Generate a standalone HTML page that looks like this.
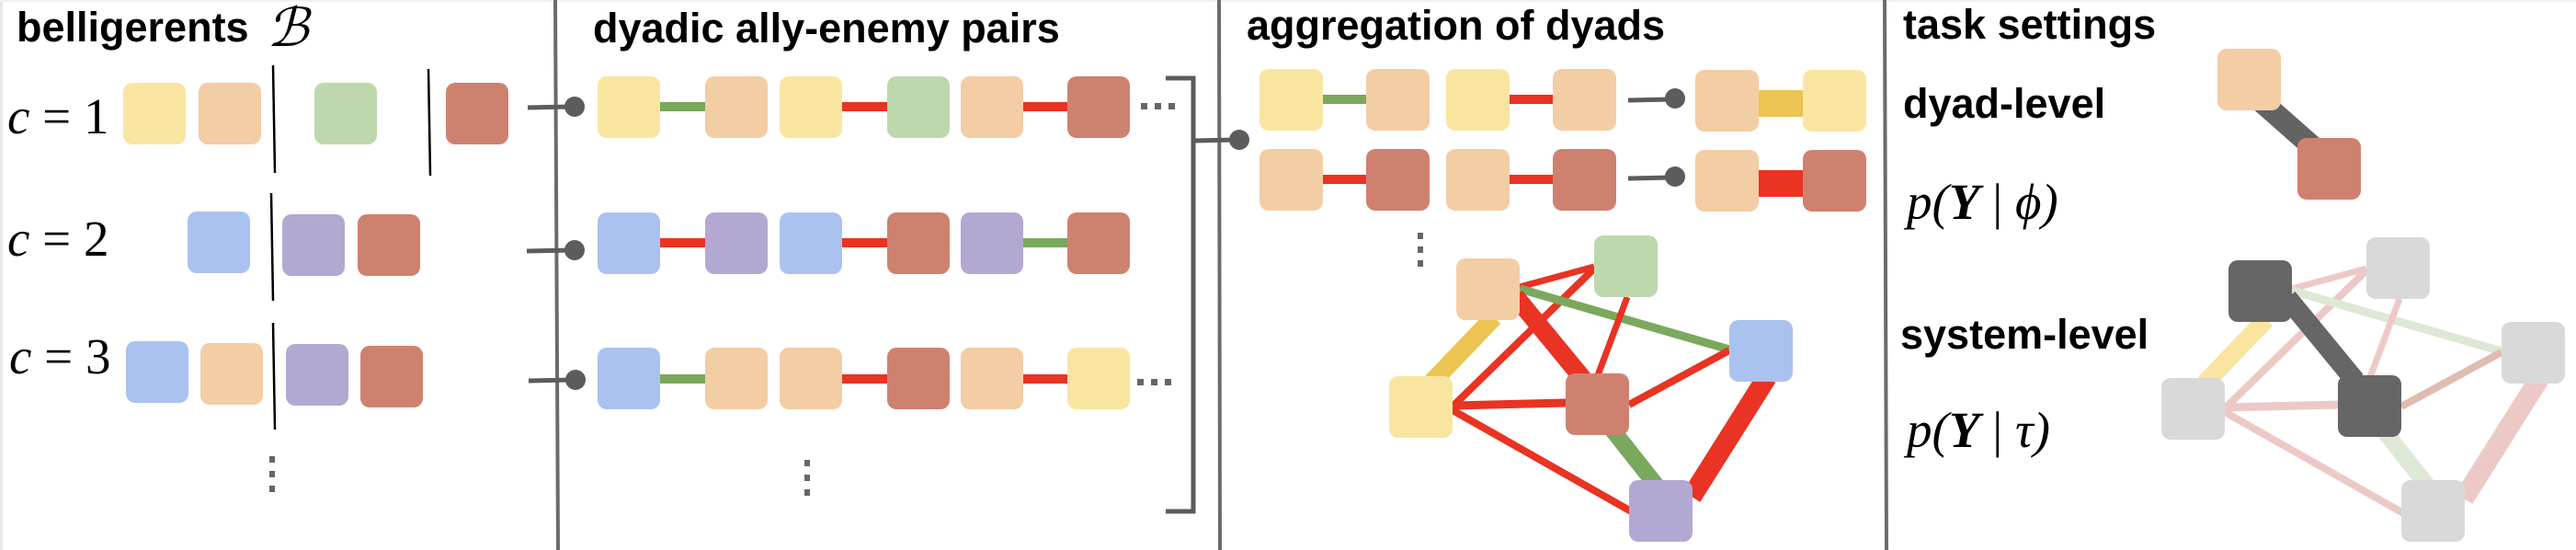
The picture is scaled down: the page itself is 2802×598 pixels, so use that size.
<!DOCTYPE html>
<html><head><meta charset="utf-8"><style>
html,body{margin:0;padding:0;background:#fff;}
svg{display:block;}
.t{font-family:"Liberation Sans",sans-serif;font-weight:bold;font-size:45px;fill:#000;}
.m{font-family:"Liberation Serif",serif;font-style:italic;font-size:55px;fill:#000;}
</style></head><body>
<svg width="2802" height="598" viewBox="0 0 2802 598" xmlns="http://www.w3.org/2000/svg">
<rect x="0" y="0" width="3" height="598" fill="#e8e8e8"/>
<rect x="0" y="0" width="2802" height="2" fill="#f0f0f0"/>
<g stroke="#6b6b6b" stroke-width="4">
<line x1="604" y1="0" x2="607" y2="598"/>
<line x1="1326" y1="0" x2="1327" y2="598"/>
<line x1="2050" y1="0" x2="2052" y2="598"/>
</g>
<text class="t" x="18" y="45">belligerents</text>
<text x="290" y="50" font-family="Liberation Serif,serif" font-style="italic" font-size="58" fill="#000">ℬ</text>
<text class="t" x="645" y="46">dyadic ally-enemy pairs</text>
<text class="t" x="1356" y="43">aggregation of dyads</text>
<text class="t" x="2070" y="42">task settings</text>
<text class="t" x="2070" y="128">dyad-level</text>
<text class="t" x="2067" y="379">system-level</text>
<text class="m" x="2074" y="238" font-size="52">p(<tspan font-weight="bold">Y</tspan> <tspan font-style="normal">|</tspan> ϕ)</text>
<text class="m" x="2074" y="486" font-size="52">p(<tspan font-weight="bold">Y</tspan> <tspan font-style="normal">|</tspan> τ)</text>
<text class="m" x="8" y="145">c <tspan font-style="normal">= 1</tspan></text>
<text class="m" x="8" y="278">c <tspan font-style="normal">= 2</tspan></text>
<text class="m" x="10" y="406">c <tspan font-style="normal">= 3</tspan></text>
<g>
<rect x="134" y="90" width="68" height="67" rx="10" fill="#fae5a0"/>
<rect x="216" y="90" width="68" height="67" rx="10" fill="#f3cda4"/>
<rect x="342" y="90" width="68" height="67" rx="10" fill="#bdd8ad"/>
<rect x="485" y="90" width="68" height="67" rx="10" fill="#cf8170"/>
<rect x="204" y="230" width="68" height="67" rx="10" fill="#aac2ef"/>
<rect x="307" y="233" width="68" height="67" rx="10" fill="#b3a8d2"/>
<rect x="389" y="233" width="68" height="67" rx="10" fill="#cf8170"/>
<rect x="137" y="371" width="68" height="67" rx="10" fill="#aac2ef"/>
<rect x="218" y="373" width="68" height="67" rx="10" fill="#f3cda4"/>
<rect x="311" y="374" width="68" height="67" rx="10" fill="#b3a8d2"/>
<rect x="392" y="376" width="68" height="67" rx="10" fill="#cf8170"/>
</g>
<g stroke="#000" stroke-width="2.5">
<line x1="297" y1="71" x2="299" y2="188"/>
<line x1="466" y1="75" x2="468" y2="191"/>
<line x1="295" y1="210" x2="297" y2="327"/>
<line x1="297" y1="351" x2="299" y2="467"/>
</g>
<g fill="#666">
<rect x="293" y="496" width="6" height="7"/><rect x="293" y="512" width="6" height="7"/><rect x="293" y="528" width="6" height="7"/>
<rect x="875" y="500" width="6" height="7"/><rect x="875" y="516" width="6" height="7"/><rect x="875" y="532" width="6" height="7"/>
<rect x="1542" y="253" width="6" height="7"/><rect x="1542" y="268" width="6" height="7"/><rect x="1542" y="283" width="6" height="7"/>
<rect x="1241" y="112" width="7" height="7"/><rect x="1256" y="112" width="7" height="7"/><rect x="1271" y="112" width="7" height="7"/>
<rect x="1237" y="412" width="7" height="7"/><rect x="1252" y="412" width="7" height="7"/><rect x="1267" y="412" width="7" height="7"/>
</g>
<g stroke="#5c5c5c" stroke-width="5" fill="none">
<line x1="574" y1="117" x2="622" y2="116"/>
<line x1="573" y1="273" x2="622" y2="272"/>
<line x1="575" y1="414" x2="622" y2="413"/>
<polyline points="1268,85 1298,85 1298,556 1268,556"/>
<line x1="1298" y1="153" x2="1345" y2="152"/>
<line x1="1771" y1="109" x2="1818" y2="108"/>
<line x1="1771" y1="194" x2="1818" y2="193"/>
</g>
<g fill="#5c5c5c">
<circle cx="625" cy="116" r="11"/><circle cx="625" cy="272" r="11"/><circle cx="626" cy="413" r="11"/>
<circle cx="1348" cy="152" r="11"/><circle cx="1822" cy="107" r="11"/><circle cx="1822" cy="192" r="11"/>
</g>
<g>
<rect x="716" y="111" width="52" height="10" fill="#7aa85c"/>
<rect x="914" y="111" width="52" height="10" fill="#e93323"/>
<rect x="1111" y="111" width="52" height="10" fill="#e93323"/>
<rect x="716" y="259" width="52" height="10" fill="#e93323"/>
<rect x="914" y="259" width="52" height="10" fill="#e93323"/>
<rect x="1111" y="259" width="52" height="10" fill="#7aa85c"/>
<rect x="716" y="407" width="52" height="10" fill="#7aa85c"/>
<rect x="914" y="407" width="52" height="10" fill="#e93323"/>
<rect x="1111" y="407" width="52" height="10" fill="#e93323"/>
<rect x="650" y="83" width="68" height="67" rx="10" fill="#fae5a0"/>
<rect x="767" y="83" width="68" height="67" rx="10" fill="#f3cda4"/>
<rect x="848" y="83" width="68" height="67" rx="10" fill="#fae5a0"/>
<rect x="965" y="83" width="68" height="67" rx="10" fill="#bdd8ad"/>
<rect x="1045" y="83" width="68" height="67" rx="10" fill="#f3cda4"/>
<rect x="1161" y="83" width="68" height="67" rx="10" fill="#cf8170"/>
<rect x="650" y="231" width="68" height="67" rx="10" fill="#aac2ef"/>
<rect x="767" y="231" width="68" height="67" rx="10" fill="#b3a8d2"/>
<rect x="848" y="231" width="68" height="67" rx="10" fill="#aac2ef"/>
<rect x="965" y="231" width="68" height="67" rx="10" fill="#cf8170"/>
<rect x="1045" y="231" width="68" height="67" rx="10" fill="#b3a8d2"/>
<rect x="1161" y="231" width="68" height="67" rx="10" fill="#cf8170"/>
<rect x="650" y="378" width="68" height="67" rx="10" fill="#aac2ef"/>
<rect x="767" y="378" width="68" height="67" rx="10" fill="#f3cda4"/>
<rect x="848" y="378" width="68" height="67" rx="10" fill="#f3cda4"/>
<rect x="965" y="378" width="68" height="67" rx="10" fill="#cf8170"/>
<rect x="1045" y="378" width="68" height="67" rx="10" fill="#f3cda4"/>
<rect x="1161" y="378" width="68" height="67" rx="10" fill="#fae5a0"/>
</g>
<g>
<rect x="1437" y="103" width="51" height="10" fill="#7aa85c"/>
<rect x="1640" y="103" width="51" height="10" fill="#e93323"/>
<rect x="1911" y="98" width="52" height="29" fill="#ebc452"/>
<rect x="1437" y="190" width="51" height="10" fill="#e93323"/>
<rect x="1640" y="190" width="51" height="10" fill="#e93323"/>
<rect x="1911" y="185" width="52" height="29" fill="#e93323"/>
<rect x="1370" y="75" width="69" height="67" rx="10" fill="#fae5a0"/>
<rect x="1486" y="75" width="69" height="67" rx="10" fill="#f3cda4"/>
<rect x="1573" y="75" width="69" height="67" rx="10" fill="#fae5a0"/>
<rect x="1689" y="75" width="69" height="67" rx="10" fill="#f3cda4"/>
<rect x="1844" y="76" width="69" height="67" rx="10" fill="#f3cda4"/>
<rect x="1961" y="76" width="69" height="67" rx="10" fill="#fae5a0"/>
<rect x="1370" y="162" width="69" height="67" rx="10" fill="#f3cda4"/>
<rect x="1486" y="162" width="69" height="67" rx="10" fill="#cf8170"/>
<rect x="1573" y="162" width="69" height="67" rx="10" fill="#f3cda4"/>
<rect x="1689" y="162" width="69" height="67" rx="10" fill="#cf8170"/>
<rect x="1844" y="163" width="69" height="67" rx="10" fill="#f3cda4"/>
<rect x="1961" y="163" width="69" height="67" rx="10" fill="#cf8170"/>
</g>
<g stroke-linecap="butt">
<line x1="1653" y1="312" x2="1734" y2="290" stroke="#e93323" stroke-width="7"/>
<line x1="1734" y1="292" x2="1580" y2="442" stroke="#e93323" stroke-width="8"/>
<line x1="1653" y1="314" x2="1881" y2="380" stroke="#7aa85c" stroke-width="9"/>
<line x1="1648" y1="322" x2="1722" y2="412" stroke="#e93323" stroke-width="20"/>
<line x1="1770" y1="323" x2="1738" y2="408" stroke="#e93323" stroke-width="7"/>
<line x1="1625" y1="345" x2="1558" y2="415" stroke="#ebc452" stroke-width="20"/>
<line x1="1580" y1="441" x2="1704" y2="438" stroke="#e93323" stroke-width="9"/>
<line x1="1772" y1="440" x2="1881" y2="381" stroke="#e93323" stroke-width="8"/>
<line x1="1580" y1="446" x2="1776" y2="557" stroke="#e93323" stroke-width="8"/>
<line x1="1752" y1="465" x2="1805" y2="532" stroke="#7aa85c" stroke-width="18"/>
<line x1="1922" y1="410" x2="1840" y2="540" stroke="#e93323" stroke-width="22"/>
<rect x="1584" y="281" width="69" height="67" rx="10" fill="#f3cda4"/>
<rect x="1734" y="256" width="69" height="67" rx="10" fill="#bdd8ad"/>
<rect x="1881" y="348" width="69" height="67" rx="10" fill="#aac2ef"/>
<rect x="1511" y="409" width="69" height="67" rx="10" fill="#fae5a0"/>
<rect x="1703" y="406" width="69" height="67" rx="10" fill="#cf8170"/>
<rect x="1772" y="522" width="69" height="67" rx="10" fill="#b3a8d2"/>
</g>
<line x1="2448" y1="100" x2="2533" y2="175" stroke="#636363" stroke-width="24"/>
<rect x="2412" y="53" width="69" height="67" rx="10" fill="#f3cda4"/>
<rect x="2499" y="150" width="69" height="67" rx="10" fill="#cf8170"/>
<g transform="translate(840,2)">
<line x1="1653" y1="312" x2="1734" y2="290" stroke="#ecc9c7" stroke-width="7"/>
<line x1="1734" y1="292" x2="1580" y2="442" stroke="#ecc9c7" stroke-width="8"/>
<line x1="1653" y1="314" x2="1881" y2="380" stroke="#dde8d6" stroke-width="9"/>
<line x1="1648" y1="322" x2="1722" y2="412" stroke="#666" stroke-width="22"/>
<line x1="1770" y1="323" x2="1738" y2="408" stroke="#ecc9c7" stroke-width="7"/>
<line x1="1625" y1="345" x2="1558" y2="415" stroke="#fae4a0" stroke-width="20"/>
<line x1="1580" y1="441" x2="1704" y2="438" stroke="#ecc9c7" stroke-width="9"/>
<line x1="1772" y1="440" x2="1881" y2="381" stroke="#dfbbb0" stroke-width="8"/>
<line x1="1580" y1="446" x2="1776" y2="557" stroke="#ecc9c7" stroke-width="8"/>
<line x1="1752" y1="465" x2="1805" y2="532" stroke="#dde8d6" stroke-width="18"/>
<line x1="1922" y1="410" x2="1840" y2="540" stroke="#ecc9c7" stroke-width="22"/>
<rect x="1584" y="281" width="69" height="67" rx="10" fill="#666"/>
<rect x="1734" y="256" width="69" height="67" rx="10" fill="#d9d9d9"/>
<rect x="1881" y="348" width="69" height="67" rx="10" fill="#d9d9d9"/>
<rect x="1511" y="409" width="69" height="67" rx="10" fill="#d9d9d9"/>
<rect x="1703" y="406" width="69" height="67" rx="10" fill="#666"/>
<rect x="1772" y="520" width="69" height="67" rx="10" fill="#d9d9d9"/>
</g>
</svg>
</body></html>
